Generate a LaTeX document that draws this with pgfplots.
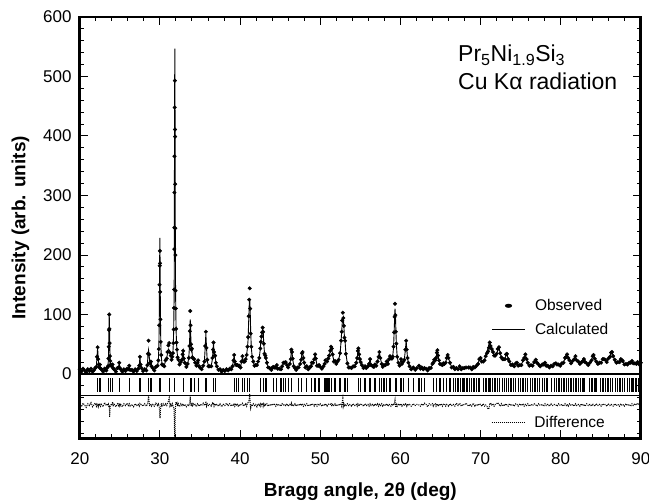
\documentclass[border=0pt]{standalone}
\usepackage{fontspec}
\setmainfont{Liberation Sans}
\usepackage{pgfplots}
\pgfplotsset{compat=1.18}
\usepackage{pgfplotstable}

\pgfplotstableread{
x obs calc diff
20.0 8 6 -50
20.2 4 6 -55
20.4 9 6 -49
20.6 6 6 -52
20.8 3 6 -56
21.0 8 6 -50
21.2 5 6 -53
21.4 9 6 -48
21.6 4 6 -55
21.8 7 6 -51
21.92 10 8 -49
22.07 12 14 -54
22.14 29 27 -50
22.22 45 44 -51
22.30 25 27 -55
22.37 16 14 -50
22.44 11 12 -53
22.51 16 14 -49
22.59 9 10 -54
22.70 8 7 -51
22.90 4 6 -55
23.10 9 6 -48
23.30 6 7 -53
23.45 11 9 -50
23.52 13 14 -53
23.57 26 25 -51
23.61 46 48 -54
23.64 74 78 -56
23.67 100 103 -55
23.70 76 82 -58
23.72 52 72 -72
23.76 30 40 -62
23.80 22 24 -54
23.85 16 17 -53
23.92 14 13 -50
24.00 13 14 -53
24.09 16 14 -47
24.18 9 10 -53
24.30 8 7 -51
24.50 4 6 -55
24.70 10 8 -50
24.84 11 12 -53
24.92 19 18 -49
25.00 10 12 -54
25.10 8 7 -51
25.30 4 6 -55
25.50 8 6 -50
25.70 5 6 -53
25.90 9 7 -49
26.05 8 9 -53
26.17 14 12 -50
26.28 7 8 -54
26.50 7 6 -51
26.70 4 6 -55
26.90 8 6 -50
27.10 5 6 -53
27.30 9 8 -51
27.42 14 15 -54
27.50 29 28 -50
27.58 16 16 -52
27.70 10 9 -51
27.90 5 6 -54
28.10 8 6 -50
28.30 6 8 -54
28.43 15 14 -51
28.50 34 30 -47
28.58 56 40 -36
28.66 33 30 -49
28.73 18 19 -54
28.80 19 17 -50
28.87 21 20 -51
28.95 13 14 -54
29.10 10 9 -51
29.30 6 8 -54
29.50 12 10 -49
29.70 14 15 -53
29.80 23 22 -50
29.86 42 42 -52
29.91 82 85 -55
29.95 150 160 -62
29.97 182 200 -70
29.99 207 229 -74
30.01 186 205 -71
30.03 138 160 -74
30.06 92 100 -60
30.10 54 58 -56
30.16 32 30 -49
30.25 16 18 -55
30.40 15 13 -50
30.55 13 15 -54
30.70 23 22 -50
30.85 26 27 -53
30.95 37 35 -49
31.05 48 42 -46
31.16 52 40 -40
31.25 36 38 -54
31.35 31 30 -51
31.45 24 26 -55
31.55 29 28 -50
31.62 35 36 -53
31.68 52 55 -55
31.72 75 80 -57
31.76 111 118 -59
31.78 142 160 -70
31.79 210 230 -72
31.80 246 280 -86
31.81 305 340 -87
31.82 366 410 -96
31.84 448 500 -104
31.86 493 547 -106
31.88 411 470 -111
31.89 399 420 -73
31.90 319 340 -73
31.91 245 260 -67
31.93 200 205 -57
31.95 140 142 -54
31.98 110 105 -47
32.02 76 72 -48
32.07 53 52 -51
32.13 41 38 -49
32.20 28 30 -54
32.30 24 22 -50
32.45 16 18 -55
32.60 20 18 -50
32.75 24 25 -53
32.83 33 32 -51
32.90 39 38 -50
32.97 26 28 -54
33.10 19 18 -51
33.30 12 14 -55
33.45 17 16 -51
33.60 27 28 -53
33.68 47 45 -50
33.73 72 68 -47
33.78 106 92 -38
33.82 82 80 -50
33.87 50 52 -54
33.93 41 40 -51
33.98 43 42 -50
34.05 28 30 -55
34.15 26 24 -50
34.27 25 25 -52
34.40 19 18 -51
34.55 14 16 -55
34.68 19 18 -50
34.77 23 22 -51
34.88 13 14 -54
35.00 11 10 -51
35.20 8 9 -53
35.40 14 12 -49
35.55 21 22 -53
35.65 47 45 -50
35.73 71 68 -48
35.81 44 45 -54
35.90 24 22 -50
36.05 13 14 -53
36.20 13 12 -51
36.40 13 14 -54
36.55 27 25 -49
36.62 41 40 -51
36.68 53 52 -50
36.75 37 38 -54
36.82 31 30 -51
36.89 31 30 -50
36.98 19 20 -53
37.10 13 12 -51
37.30 7 8 -54
37.50 8 6 -50
37.70 4 6 -55
37.90 7 6 -51
38.10 5 6 -53
38.30 8 6 -49
38.50 6 7 -53
38.70 9 7 -50
38.90 8 9 -54
39.05 13 12 -51
39.18 23 24 -53
39.26 32 30 -49
39.34 21 22 -54
39.45 16 15 -51
39.55 15 16 -53
39.65 15 14 -50
39.80 14 15 -55
39.90 14 13 -51
40.05 11 12 -53
40.18 21 20 -50
40.30 30 28 -49
40.40 21 22 -54
40.50 21 20 -51
40.59 21 21 -52
40.70 25 24 -50
40.82 32 33 -54
40.92 46 44 -49
41.00 62 58 -48
41.08 97 92 -46
41.14 125 116 -42
41.20 144 126 -33
41.26 110 108 -50
41.32 68 72 -57
41.40 46 45 -51
41.50 29 30 -54
41.65 21 20 -50
41.80 14 15 -53
41.95 15 14 -51
42.10 15 16 -55
42.25 21 20 -50
42.40 27 28 -53
42.52 43 42 -50
42.59 54 55 -54
42.67 63 62 -51
42.75 70 70 -52
42.82 78 76 -49
42.88 71 72 -54
42.96 51 50 -50
43.05 34 35 -53
43.15 31 30 -51
43.21 27 27 -52
43.35 19 18 -50
43.50 11 12 -54
43.70 10 9 -51
43.90 7 8 -53
44.05 11 10 -50
44.17 12 12 -52
44.30 11 10 -51
44.45 11 12 -54
44.58 15 14 -50
44.70 9 10 -53
44.90 9 8 -51
45.10 8 9 -54
45.25 13 12 -50
45.41 19 19 -52
45.55 19 18 -51
45.70 20 20 -53
45.85 15 14 -50
46.00 11 12 -54
46.20 17 16 -51
46.32 25 26 -53
46.40 41 40 -49
46.48 37 38 -54
46.56 26 25 -51
46.70 13 14 -53
46.85 10 9 -50
47.00 7 8 -54
47.15 11 10 -51
47.30 11 12 -53
47.50 17 16 -50
47.62 24 25 -53
47.72 35 34 -50
47.80 37 37 -52
47.90 27 28 -54
48.00 19 18 -51
48.15 11 12 -53
48.32 13 12 -50
48.50 8 9 -54
48.70 11 10 -51
48.85 13 14 -53
48.95 19 18 -50
49.10 19 18 -51
49.25 25 26 -54
49.36 33 32 -50
49.45 26 25 -51
49.60 14 15 -54
49.75 14 13 -50
49.86 15 15 -52
50.00 12 11 -50
50.20 9 10 -54
50.40 13 12 -51
50.55 17 18 -53
50.65 23 22 -50
50.86 21 22 -54
51.00 26 25 -51
51.11 31 30 -50
51.25 39 38 -51
51.35 46 45 -49
51.44 43 44 -54
51.55 33 32 -51
51.70 21 22 -53
51.85 22 21 -50
52.00 17 18 -54
52.15 21 20 -51
52.30 24 25 -53
52.48 35 34 -50
52.60 56 55 -51
52.68 71 72 -54
52.75 90 86 -47
52.82 103 92 -41
52.88 94 95 -54
52.95 81 80 -50
53.02 61 62 -53
53.10 56 55 -51
53.20 34 35 -54
53.39 18 17 -50
53.55 11 12 -53
53.70 11 10 -51
53.90 10 11 -54
54.10 13 12 -50
54.30 13 14 -53
54.50 19 18 -51
54.62 27 28 -54
54.70 39 38 -50
54.76 43 42 -51
54.85 33 34 -54
54.95 25 24 -50
55.05 20 20 -52
55.20 15 14 -51
55.40 10 11 -54
55.59 13 12 -50
55.75 10 11 -53
55.95 13 12 -51
56.10 17 18 -54
56.22 25 24 -50
56.35 15 16 -53
56.55 13 12 -51
56.70 12 13 -54
56.84 16 15 -50
57.00 14 15 -53
57.15 21 20 -50
57.28 29 30 -54
57.38 37 36 -51
57.50 27 28 -53
57.67 17 16 -50
57.80 12 13 -54
57.96 15 14 -51
58.15 15 16 -53
58.30 21 20 -50
58.45 17 18 -54
58.60 25 24 -51
58.71 30 30 -52
58.82 26 27 -54
58.95 26 25 -50
59.05 29 30 -53
59.15 46 45 -51
59.22 70 70 -52
59.28 96 92 -48
59.33 118 110 -44
59.38 99 100 -53
59.44 71 74 -56
59.50 51 50 -51
59.60 29 30 -54
59.75 19 18 -50
59.90 14 15 -53
60.08 25 24 -50
60.20 17 18 -54
60.37 21 20 -51
60.50 24 25 -53
60.62 41 40 -50
60.72 56 55 -51
60.80 41 42 -54
60.90 27 26 -50
61.00 19 19 -52
61.15 13 12 -51
61.35 8 9 -54
61.62 11 10 -50
61.85 7 8 -53
62.05 10 9 -51
62.33 14 14 -52
62.50 9 10 -54
62.66 11 10 -50
62.85 8 9 -53
63.00 10 8 -49
63.20 9 8 -51
63.40 6 8 -55
63.60 10 8 -50
63.80 10 10 -52
64.00 17 16 -50
64.11 19 20 -54
64.22 24 23 -51
64.35 23 22 -50
64.45 27 28 -54
64.55 36 35 -51
64.62 40 39 -50
64.70 31 32 -54
64.82 23 22 -51
64.94 17 18 -53
65.10 16 15 -50
65.25 15 16 -54
65.36 18 17 -51
65.50 17 16 -50
65.65 19 20 -54
65.78 27 26 -51
65.90 32 32 -52
66.00 27 28 -54
66.19 19 18 -50
66.40 11 12 -53
66.61 12 11 -51
66.80 8 9 -54
67.00 10 8 -49
67.20 8 9 -53
67.40 13 11 -49
67.60 8 9 -54
67.80 10 9 -51
68.00 10 10 -52
68.20 11 9 -49
68.50 11 12 -54
68.70 11 10 -51
68.90 8 9 -54
69.10 12 10 -49
69.30 11 12 -54
69.50 14 13 -51
69.70 17 18 -53
69.85 25 24 -50
70.00 27 26 -51
70.15 21 22 -54
70.35 21 20 -50
70.50 23 24 -54
70.65 30 30 -52
70.80 35 36 -54
70.95 38 44 -59
71.05 44 50 -58
71.15 53 52 -50
71.25 47 46 -49
71.40 42 42 -52
71.55 37 36 -50
71.70 31 32 -54
71.85 31 30 -51
72.00 34 33 -50
72.15 42 40 -48
72.30 45 44 -51
72.45 35 36 -54
72.60 28 27 -50
72.75 25 26 -54
72.90 25 24 -51
73.05 25 26 -53
73.20 33 32 -50
73.30 34 34 -52
73.45 25 26 -54
73.60 21 20 -50
73.80 15 16 -53
74.00 16 15 -51
74.20 13 14 -54
74.40 18 17 -50
74.55 19 18 -51
74.70 14 15 -54
74.90 15 14 -50
75.10 15 16 -53
75.30 23 22 -50
75.45 27 28 -54
75.60 33 32 -51
75.75 25 26 -53
75.90 19 18 -50
76.10 14 15 -54
76.30 15 14 -51
76.50 14 15 -53
76.70 20 19 -50
76.90 24 24 -52
77.05 19 20 -54
77.25 16 15 -50
77.45 13 14 -53
77.70 16 15 -51
77.90 16 17 -54
78.05 19 18 -50
78.20 14 15 -53
78.40 14 13 -51
78.60 11 12 -54
78.80 14 13 -50
79.00 13 14 -53
79.20 17 16 -51
79.40 18 18 -52
79.55 16 17 -54
79.75 16 15 -50
79.95 14 15 -53
80.15 18 17 -51
80.35 19 20 -54
80.55 27 26 -50
80.70 29 30 -53
80.80 33 32 -51
80.95 27 28 -54
81.10 23 22 -50
81.30 18 19 -53
81.50 22 21 -51
81.70 25 26 -54
81.85 30 29 -50
82.00 23 24 -53
82.20 21 20 -51
82.40 17 18 -54
82.60 20 19 -50
82.75 21 22 -53
82.90 25 24 -51
83.05 20 21 -54
83.25 18 17 -50
83.45 15 16 -53
83.65 19 18 -51
83.85 23 24 -54
84.00 30 29 -50
84.10 32 32 -52
84.25 26 27 -54
84.45 21 20 -50
84.65 17 18 -53
84.85 19 18 -51
85.05 19 20 -54
85.25 25 24 -50
85.40 25 25 -52
85.55 24 23 -51
85.75 20 21 -54
85.95 26 25 -50
86.15 29 30 -53
86.30 36 35 -51
86.40 37 37 -52
86.55 30 31 -54
86.75 24 23 -50
86.95 19 20 -53
87.15 20 19 -51
87.35 20 21 -54
87.50 25 24 -50
87.60 24 24 -52
87.75 22 21 -51
87.95 16 17 -54
88.15 17 16 -50
88.35 16 17 -53
88.55 19 18 -51
88.75 19 20 -54
88.90 22 21 -50
89.05 18 19 -53
89.25 18 17 -50
89.45 17 18 -52
89.60 20 19 -49
89.80 16 17 -52
90.00 19 16 -47
}\xrddata

\pgfplotstableread{
x y
22.22 -18.7
22.51 -18.7
23.55 -18.7
23.80 -18.7
24.09 -18.7
24.92 -18.7
26.17 -18.7
27.50 -18.7
28.58 -18.7
28.87 -18.7
29.99 -18.7
31.16 -18.7
31.86 -18.7
32.90 -18.7
33.78 -18.7
33.98 -18.7
34.27 -18.7
34.77 -18.7
35.73 -18.7
36.68 -18.7
36.89 -18.7
39.26 -18.7
39.55 -18.7
39.80 -18.7
40.30 -18.7
40.59 -18.7
40.92 -18.7
41.21 -18.7
42.59 -18.7
42.88 -18.7
43.21 -18.7
43.33 -18.7
44.17 -18.7
44.58 -18.7
45.12 -18.7
45.41 -18.7
45.70 -18.7
46.04 -18.7
46.45 -18.7
47.28 -18.7
47.70 -18.7
48.32 -18.7
48.95 -18.7
49.36 -18.7
49.86 -18.7
50.61 -18.7
50.86 -18.7
51.11 -18.7
51.44 -18.7
51.85 -18.7
52.48 -18.7
53.10 -18.7
53.39 -18.7
54.76 -18.7
55.05 -18.7
55.59 -18.7
56.22 -18.7
56.84 -18.7
57.38 -18.7
57.67 -18.7
57.96 -18.7
58.30 -18.7
58.71 -18.7
59.46 -18.7
60.08 -18.7
60.37 -18.7
61.00 -18.7
61.62 -18.7
62.33 -18.7
62.66 -18.7
62.99 -18.7
64.11 -18.7
64.53 -18.7
64.94 -18.7
65.36 -18.7
65.78 -18.7
66.19 -18.7
66.61 -18.7
66.9 -18.7
67.2 -18.7
67.5 -18.7
67.8 -18.7
68.0 -18.7
68.3 -18.7
68.6 -18.7
68.9 -18.7
69.2 -18.7
69.5 -18.7
69.8 -18.7
70.4 -18.7
70.7 -18.7
71.0 -18.7
71.2 -18.7
71.5 -18.7
71.8 -18.7
72.1 -18.7
72.4 -18.7
72.7 -18.7
73.0 -18.7
73.2 -18.7
73.5 -18.7
73.8 -18.7
74.1 -18.7
74.4 -18.7
74.7 -18.7
75.0 -18.7
75.3 -18.7
75.6 -18.7
75.9 -18.7
76.2 -18.7
76.5 -18.7
76.8 -18.7
77.1 -18.7
77.4 -18.7
77.7 -18.7
78.0 -18.7
78.3 -18.7
78.9 -18.7
79.2 -18.7
79.5 -18.7
79.8 -18.7
80.1 -18.7
80.4 -18.7
80.7 -18.7
81.0 -18.7
81.3 -18.7
81.6 -18.7
81.9 -18.7
82.2 -18.7
82.5 -18.7
82.8 -18.7
83.0 -18.7
83.6 -18.7
83.9 -18.7
84.2 -18.7
84.4 -18.7
85.0 -18.7
85.3 -18.7
85.6 -18.7
85.9 -18.7
86.2 -18.7
86.5 -18.7
86.8 -18.7
87.1 -18.7
87.4 -18.7
87.7 -18.7
88.0 -18.7
88.3 -18.7
88.6 -18.7
88.9 -18.7
89.1 -18.7
89.3 -18.7
89.5 -18.7
89.7 -18.7
89.9 -18.7
}\refldata

\begin{document}
\begin{tikzpicture}
\begin{axis}[
  at={(0pt,0pt)}, anchor=south west,
  width=561pt, height=421.3pt, scale only axis,
  xmin=20, xmax=90, ymin=-108, ymax=600,
  xtick={20,30,...,90}, ytick={0,100,...,600},
  minor x tick num=4,
  minor ytick={-100,-80,...,580},
  tick align=inside,
  major tick length=8pt, minor tick length=4pt,
  tick style={black, line width=1pt},
  axis line style={line width=2.6pt},
  /pgf/number format/assume math mode=true,
  /pgf/number format/1000 sep={},
  tick label style={font=\fontsize{17}{20}\selectfont, inner sep=0pt},
  xticklabel style={anchor=north, yshift=-13.9pt},
  yticklabel style={anchor=east, xshift=-8.1pt},
  xlabel={Bragg angle, 2θ (deg)},
  ylabel={Intensity (arb. units)},
  label style={font=\fontsize{19}{22}\selectfont\bfseries, inner sep=0pt},
  xlabel style={at={(axis description cs:0.5,-0.1393)}, anchor=base},
  ylabel style={at={(axis description cs:-0.0971,0.5)}, anchor=base},
  legend cell align=left,
  legend image post style={xscale=1.88},
  legend style={draw=none, fill=none, inner sep=0pt, outer sep=0pt,
    at={(rel axis cs:0.7348,0.3297)}, anchor=north west,
    font=\fontsize{15.5}{18}\selectfont,
    /tikz/row sep=10.7pt, /tikz/column sep=10pt,
    nodes={inner sep=0pt}},
]
\addplot[only marks, mark=*, mark size=1.8pt, black]
  table[x=x, y=obs] {\xrddata};
\addlegendentry{Observed}
\addplot[black, line width=0.9pt, no marks]
  table[x=x, y=calc] {\xrddata};
\addlegendentry{Calculated}
\addplot[black, line width=1.3pt, forget plot] coordinates {(20,0) (90,0)};
\addplot[black, line width=1.3pt, forget plot] coordinates {(20,-36.6) (90,-36.6)};
\addplot[only marks, mark=|, mark size=6.7pt, black, mark options={line width=1.3pt}, forget plot]
  table[x=x, y=y] {\refldata};
\node[anchor=base west, inner sep=0pt, font=\fontsize{23}{27}\selectfont]
  at (rel axis cs:0.6742,0.8944) {Pr\textsubscript{5}Ni\textsubscript{1.9}Si\textsubscript{3}};
\node[anchor=base west, inner sep=0pt, font=\fontsize{23}{27}\selectfont]
  at (rel axis cs:0.6742,0.8279) {Cu Kα radiation};
\end{axis}
\begin{axis}[
  at={(0pt,0pt)}, anchor=south west,
  width=561pt, height=421.3pt, scale only axis,
  xmin=20, xmax=90, ymin=-108, ymax=600,
  hide axis,
  legend cell align=left,
  legend image post style={xscale=1.9},
  legend style={draw=none, fill=none, inner sep=0pt, outer sep=0pt,
    at={(rel axis cs:0.733,0.052)}, anchor=north west,
    font=\fontsize{15.5}{18}\selectfont,
    /tikz/column sep=10pt,
    nodes={inner sep=0pt}},
]
\addplot[black, densely dotted, line width=1pt]
  table[x=x, y=diff] {\xrddata};
\addlegendentry{Difference}
\end{axis}
\pgfresetboundingbox
\useasboundingbox (-79.8pt,-63.7pt) rectangle (569.2pt,438.3pt);
\end{tikzpicture}
\end{document}
